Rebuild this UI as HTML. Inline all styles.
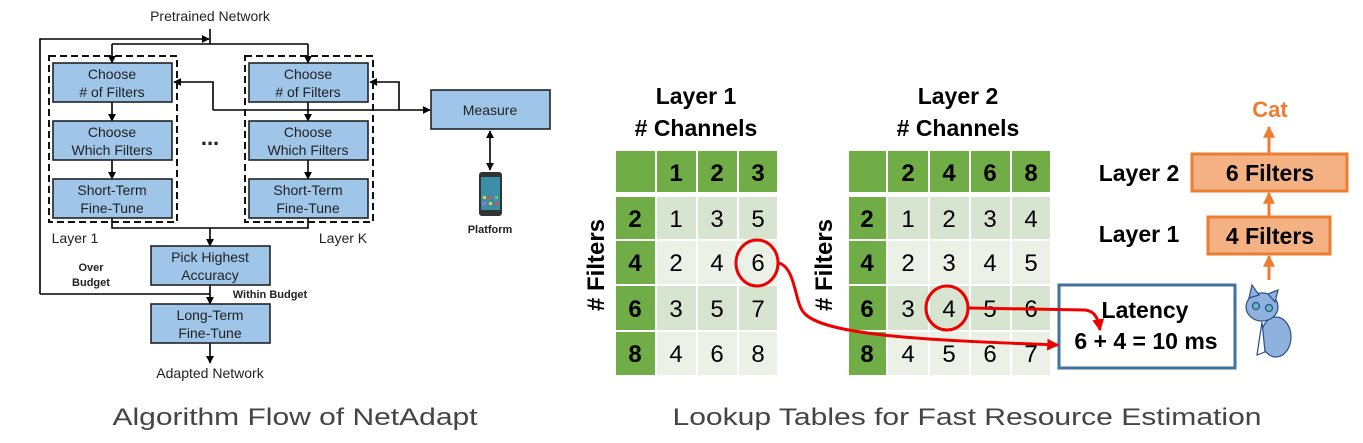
<!DOCTYPE html>
<html><head><meta charset="utf-8"><style>
html,body{margin:0;padding:0;background:#fff;}
svg{display:block;}
.s{font-family:"Liberation Sans",sans-serif;}
.n{font-family:"Liberation Sans Narrow","Liberation Sans",sans-serif;}
</style></head><body>
<svg width="1363" height="443" viewBox="0 0 1363 443" xmlns="http://www.w3.org/2000/svg">
<defs>
<marker id="a" viewBox="0 0 10 10" refX="9" refY="5" markerWidth="5" markerHeight="5" orient="auto-start-reverse"><path d="M0,0 L10,5 L0,10 z" fill="#000"/></marker>
<marker id="r" viewBox="0 0 10 10" refX="9" refY="5" markerWidth="4" markerHeight="4" orient="auto"><path d="M0,0 L10,5 L0,10 z" fill="#e00"/></marker>
<marker id="o" viewBox="0 0 10 10" refX="9" refY="5" markerWidth="4" markerHeight="4" orient="auto"><path d="M0,0 L10,5 L0,10 z" fill="#ed7d31"/></marker>
</defs>
<g class="s" font-size="14" fill="#222" text-anchor="middle">
<text x="210" y="21">Pretrained Network</text>
<g stroke="#000" stroke-width="1.6" fill="none">
<line x1="210" y1="29" x2="210" y2="44"/>
<line x1="112" y1="44" x2="308" y2="44"/>
<line x1="112" y1="44" x2="112" y2="63" marker-end="url(#a)"/>
<line x1="308" y1="44" x2="308" y2="63" marker-end="url(#a)"/>
<polyline points="40,294 40,39 209,39" marker-end="url(#a)"/>
<line x1="40" y1="294" x2="210" y2="294"/>
<line x1="213" y1="110" x2="430" y2="110" marker-end="url(#a)"/>
<polyline points="213,110 213,82 174,82" marker-end="url(#a)"/>
<polyline points="399,110 399,82 370,82" marker-end="url(#a)"/>
<line x1="490" y1="131" x2="490" y2="170" marker-end="url(#a)" marker-start="url(#a)"/>
<line x1="112" y1="102" x2="112" y2="121" marker-end="url(#a)"/>
<line x1="112" y1="160" x2="112" y2="179" marker-end="url(#a)"/>
<line x1="308" y1="102" x2="308" y2="121" marker-end="url(#a)"/>
<line x1="308" y1="160" x2="308" y2="179" marker-end="url(#a)"/>
<polyline points="112,218 112,228 308,228 308,218"/>
<line x1="210" y1="228" x2="210" y2="246" marker-end="url(#a)"/>
<line x1="210" y1="285" x2="210" y2="304" marker-end="url(#a)"/>
<line x1="210" y1="343" x2="210" y2="363" marker-end="url(#a)"/>
</g>
<g stroke="#111" stroke-width="2" stroke-dasharray="7,4" fill="none">
<rect x="49" y="56" width="128" height="166"/>
<rect x="245" y="56" width="128" height="166"/>
</g>
<g fill="#9fc5e8" stroke="#222" stroke-width="1.6">
<rect x="53" y="63" width="119" height="39"/><rect x="53" y="121" width="119" height="39"/><rect x="53" y="179" width="119" height="39"/>
<rect x="249" y="63" width="119" height="39"/><rect x="249" y="121" width="119" height="39"/><rect x="249" y="179" width="119" height="39"/>
<rect x="431" y="90" width="119" height="39"/>
<rect x="151" y="246" width="119" height="39"/><rect x="151" y="304" width="119" height="39"/>
</g>
<text x="112" y="79">Choose</text><text x="112" y="97"># of Filters</text>
<text x="112" y="137">Choose</text><text x="112" y="155">Which Filters</text>
<text x="112" y="195">Short-Term</text><text x="112" y="213">Fine-Tune</text>
<text x="308" y="79">Choose</text><text x="308" y="97"># of Filters</text>
<text x="308" y="137">Choose</text><text x="308" y="155">Which Filters</text>
<text x="308" y="195">Short-Term</text><text x="308" y="213">Fine-Tune</text>
<text x="490" y="115">Measure</text>
<text x="210" y="262">Pick Highest</text><text x="210" y="280">Accuracy</text>
<text x="210" y="320">Long-Term</text><text x="210" y="338">Fine-Tune</text>
<text x="210" y="378">Adapted Network</text>
<text x="75" y="243">Layer 1</text><text x="343" y="243">Layer K</text>
<text x="210" y="145" font-size="22" font-weight="bold">...</text>
<g font-size="11" font-weight="bold"><text x="91" y="271">Over</text><text x="91" y="286">Budget</text><text x="270" y="298">Within Budget</text><text x="490" y="233">Platform</text></g>
<rect x="479" y="172" width="23" height="44" rx="3" fill="#333"/>
<rect x="481" y="177" width="19" height="33" fill="#3a8fa8"/>
<g fill="#f5c242"><rect x="483" y="196" width="3" height="3"/><rect x="489" y="196" width="3" height="3" fill="#e44"/><rect x="495" y="196" width="3" height="3" fill="#6c6"/><rect x="483" y="202" width="3" height="3" fill="#c6c"/><rect x="489" y="202" width="3" height="3"/><rect x="495" y="202" width="3" height="3" fill="#e44"/></g>
<text x="295" y="425" font-size="24" fill="#444" textLength="365" lengthAdjust="spacingAndGlyphs">Algorithm Flow of NetAdapt</text>
<text x="967" y="425" font-size="24" fill="#444" textLength="589" lengthAdjust="spacingAndGlyphs">Lookup Tables for Fast Resource Estimation</text>
</g>

<g class="n" text-anchor="middle" fill="#000">
<g font-weight="bold" font-size="23"><text x="696" y="104">Layer 1</text><text x="696" y="136"># Channels</text><text x="958" y="104">Layer 2</text><text x="958" y="136"># Channels</text></g>
<g stroke="#fff" stroke-width="2">
<rect x="615" y="150" width="41" height="43" fill="#70ad47"/><rect x="656" y="150" width="41" height="43" fill="#70ad47"/><rect x="697" y="150" width="41" height="43" fill="#70ad47"/><rect x="738" y="150" width="40" height="43" fill="#70ad47"/>
<rect x="615" y="196" width="41" height="44" fill="#70ad47"/><rect x="656" y="196" width="122" height="44" fill="#d7e4cf"/>
<rect x="615" y="240" width="41" height="45" fill="#70ad47"/><rect x="656" y="240" width="122" height="45" fill="#ebf1e7"/>
<rect x="615" y="285" width="41" height="46" fill="#70ad47"/><rect x="656" y="285" width="122" height="46" fill="#d7e4cf"/>
<rect x="615" y="331" width="41" height="45" fill="#70ad47"/><rect x="656" y="331" width="122" height="45" fill="#ebf1e7"/>
<line x1="697" y1="196" x2="697" y2="376"/><line x1="738" y1="196" x2="738" y2="376"/>
<rect x="848" y="150" width="39" height="43" fill="#70ad47"/><rect x="887" y="150" width="42" height="43" fill="#70ad47"/><rect x="929" y="150" width="41" height="43" fill="#70ad47"/><rect x="970" y="150" width="41" height="43" fill="#70ad47"/><rect x="1011" y="150" width="40" height="43" fill="#70ad47"/>
<rect x="848" y="196" width="39" height="44" fill="#70ad47"/><rect x="887" y="196" width="164" height="44" fill="#d7e4cf"/>
<rect x="848" y="240" width="39" height="45" fill="#70ad47"/><rect x="887" y="240" width="164" height="45" fill="#ebf1e7"/>
<rect x="848" y="285" width="39" height="46" fill="#70ad47"/><rect x="887" y="285" width="164" height="46" fill="#d7e4cf"/>
<rect x="848" y="331" width="39" height="45" fill="#70ad47"/><rect x="887" y="331" width="164" height="45" fill="#ebf1e7"/>
<line x1="929" y1="196" x2="929" y2="376"/><line x1="970" y1="196" x2="970" y2="376"/><line x1="1011" y1="196" x2="1011" y2="376"/>
</g>
<g font-size="24" font-weight="bold">
<text x="676" y="181">1</text><text x="717" y="181">2</text><text x="758" y="181">3</text>
<text x="635" y="227">2</text><text x="635" y="271">4</text><text x="635" y="317">6</text><text x="635" y="362">8</text>
<text x="908" y="181">2</text><text x="949" y="181">4</text><text x="990" y="181">6</text><text x="1031" y="181">8</text>
<text x="867" y="227">2</text><text x="867" y="271">4</text><text x="867" y="317">6</text><text x="867" y="362">8</text>
</g>
<g font-size="24">
<text x="676" y="227">1</text><text x="717" y="227">3</text><text x="758" y="227">5</text>
<text x="676" y="271">2</text><text x="717" y="271">4</text><text x="758" y="271">6</text>
<text x="676" y="317">3</text><text x="717" y="317">5</text><text x="758" y="317">7</text>
<text x="676" y="362">4</text><text x="717" y="362">6</text><text x="758" y="362">8</text>
<text x="908" y="227">1</text><text x="949" y="227">2</text><text x="990" y="227">3</text><text x="1031" y="227">4</text>
<text x="908" y="271">2</text><text x="949" y="271">3</text><text x="990" y="271">4</text><text x="1031" y="271">5</text>
<text x="908" y="317">3</text><text x="949" y="317">4</text><text x="990" y="317">5</text><text x="1031" y="317">6</text>
<text x="908" y="362">4</text><text x="949" y="362">5</text><text x="990" y="362">6</text><text x="1031" y="362">7</text>
</g>
<g font-size="24" font-weight="bold">
<text transform="translate(604,265) rotate(-90)"># Filters</text>
<text transform="translate(832,265) rotate(-90)"># Filters</text>
</g>
<rect x="1059" y="285" width="176" height="83" fill="#fff" stroke="#41719c" stroke-width="3"/>
<g font-size="23" font-weight="bold"><text x="1145" y="318">Latency</text><text x="1146" y="349">6 + 4 = 10 ms</text></g>
<g stroke="#e00" stroke-width="3" fill="none">
<ellipse cx="757" cy="263" rx="21" ry="23"/>
<ellipse cx="947" cy="308" rx="21" ry="22"/>
<path d="M779,263 C795,268 795,300 802,310 C815,335 920,340 1058,345" marker-end="url(#r)"/>
<path d="M969,308 L1085,310 C1095,311 1098,318 1100,330" marker-end="url(#r)"/>
</g>
<g stroke="#ed7d31" stroke-width="3" fill="none">
<line x1="1269" y1="280" x2="1269" y2="256" marker-end="url(#o)"/>
<line x1="1269" y1="216" x2="1269" y2="193" marker-end="url(#o)"/>
<line x1="1269" y1="153" x2="1269" y2="127" marker-end="url(#o)"/>
</g>
<rect x="1192" y="154" width="155" height="37" fill="#f4b183" stroke="#ed7d31" stroke-width="3"/>
<rect x="1208" y="217" width="122" height="37" fill="#f4b183" stroke="#ed7d31" stroke-width="3"/>
<g font-size="23" font-weight="bold"><text x="1270" y="181">6 Filters</text><text x="1270" y="244">4 Filters</text>
<text x="1139" y="181">Layer 2</text><text x="1139" y="242">Layer 1</text>
<text x="1270" y="117" fill="#ed7d31" font-size="22">Cat</text></g>
<g stroke="#2a4e8a" stroke-width="1.2">
<ellipse cx="1276" cy="337" rx="15" ry="20" fill="#8fb1de"/>
<ellipse cx="1262" cy="307" rx="16" ry="14" fill="#8fb1de"/>
<path d="M1249,298 L1252,285 L1259,295 Z M1268,294 L1278,290 L1275,302 Z" fill="#8fb1de"/>
<circle cx="1256" cy="306" r="3.5" fill="#6bb"/><circle cx="1269" cy="308" r="3.5" fill="#6bb"/>
<path d="M1262,322 L1265,352 L1257,355 Z" fill="#fff"/>
</g>
</g>
</svg>
</body></html>
